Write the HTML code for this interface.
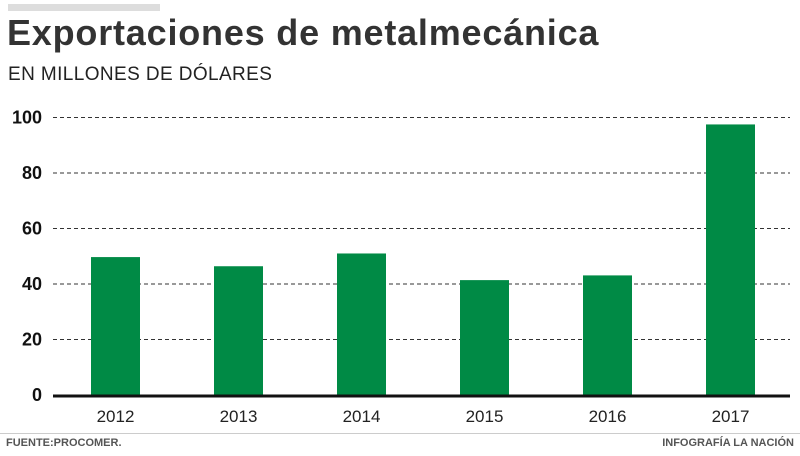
<!DOCTYPE html>
<html><head><meta charset="utf-8"><style>
body{margin:0;width:800px;height:456px;background:#fff;overflow:hidden;font-family:"Liberation Sans",sans-serif;position:relative}
.a{position:absolute}
</style></head><body>
<div class="a" style="left:8px;top:4px;width:152px;height:7px;background:#ddd"></div>
<div class="a" style="left:7px;top:12px;font-size:36px;font-weight:bold;color:#333;letter-spacing:0.8px">Exportaciones de metalmecánica</div>
<div class="a" style="left:8px;top:64px;font-size:19px;color:#222;letter-spacing:0.4px">EN MILLONES DE DÓLARES</div>
<svg class="a" style="left:0;top:0" width="800" height="456">
<g id="g"></g>
</svg>
<div class="a" style="left:0;top:433px;width:800px;height:1px;background:#ccc"></div>
<div class="a" style="left:6px;top:437px;font-size:11px;font-weight:bold;color:#555">FUENTE:PROCOMER.</div>
<div class="a" style="right:6px;top:437px;font-size:11px;font-weight:bold;color:#555">INFOGRAFÍA LA NACIÓN</div>
<script>
const categories=["2012","2013","2014","2015","2016","2017"];
const values=[49.7,46.4,51,41.4,43.1,97.5];
const ticks=[0,20,40,60,80,100];
const NS="http://www.w3.org/2000/svg";
const g=document.getElementById('g');
const y=v=>395-v*2.775;
const x=i=>91+i*123;
function mk(t,a){const e=document.createElementNS(NS,t);for(const k in a)e.setAttribute(k,a[k]);g.appendChild(e);return e;}
ticks.forEach(t=>{
 if(t>0){const l=mk('line',{x1:53,x2:790,y1:y(t),y2:y(t),stroke:'#333','stroke-width':1,'stroke-dasharray':'4,3'});
 
 }
 const tx=mk('text',{x:42,y:y(t)+6,'text-anchor':'end','font-size':18,'font-weight':'bold',fill:'#111','font-family':'Liberation Sans, sans-serif'});
 tx.textContent=t;
 
 
});
values.forEach((v,i)=>{
 const r=mk('rect',{x:x(i),y:y(v),width:49,height:y(0)-y(v),fill:'#008a45'});
 
 
 const t=mk('text',{x:x(i)+24.5,y:422,'text-anchor':'middle','font-size':17,fill:'#222','font-family':'Liberation Sans, sans-serif'});
 t.textContent=categories[i];
 
 
});
const ax=mk('line',{x1:53,x2:790,y1:396,y2:396,stroke:'#111','stroke-width':3});


</script>
</body></html>
